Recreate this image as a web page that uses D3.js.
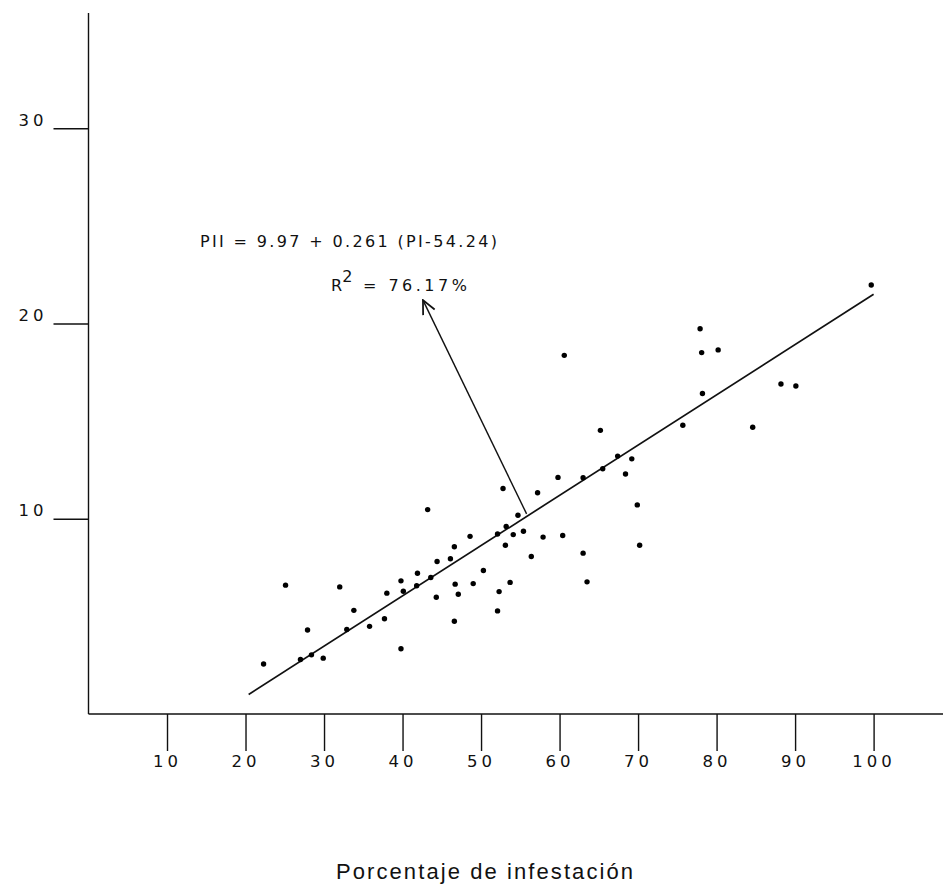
<!DOCTYPE html>
<html>
<head>
<meta charset="utf-8">
<script src="https://cdn.jsdelivr.net/npm/d3@7"></script>
<style>
  html, body { margin: 0; padding: 0; background: #fff; }
  svg { display: block; }
</style>
</head>
<body>
<svg id="chart" width="943" height="890"></svg>
<script>
// ---- Data ----
const xTicks = [10, 20, 30, 40, 50, 60, 70, 80, 90, 100];
const yTicks = [10, 20, 30];
const xTitle = "Porcentaje de infestación";
const equationText = "PII = 9.97 + 0.261 (PI-54.24)";
const r2Value = "= 76.17%";

// infestation percentage (PI)
const pi = [22.3, 25.1, 27.0, 27.9, 28.4, 29.9, 32.0, 33.8, 32.9, 35.8,
            37.7, 38.0, 39.8, 40.1, 39.8, 41.9, 41.8, 43.2, 43.6, 44.4,
            44.3, 46.1, 46.6, 46.7, 47.1, 46.6, 48.6, 49.0, 50.3, 52.1,
            52.3, 52.1, 52.8, 53.2, 53.1, 53.7, 54.1, 54.7, 55.4, 56.4,
            57.2, 57.9, 59.8, 60.4, 63.0, 63.0, 63.5, 65.2, 65.5, 67.4,
            68.4, 69.2, 69.9, 70.2, 75.7, 77.9, 78.1, 80.2, 78.2, 84.6,
            88.2, 90.1, 99.7, 60.6];
// infestation intensity (PII)
const pii = [2.56, 6.60, 2.79, 4.30, 3.03, 2.86, 6.51, 5.31, 4.33, 4.49,
             4.88, 6.19, 6.82, 6.29, 3.34, 7.21, 6.57, 10.47, 6.99, 7.81,
             5.98, 7.95, 8.57, 6.65, 6.13, 4.75, 9.10, 6.68, 7.35, 9.22,
             6.27, 5.28, 11.55, 9.61, 8.64, 6.74, 9.19, 10.18, 9.36, 8.07,
             11.33, 9.06, 12.12, 9.14, 12.10, 8.24, 6.77, 14.53, 12.56, 13.21,
             12.29, 13.07, 10.71, 8.64, 14.79, 19.73, 18.51, 18.65, 16.42, 14.69,
             16.90, 16.80, 21.97, 18.37];

// regression line end points (PI, PII) as drawn
const fitX = [20.4, 100];
const fitY = [1.0, 21.5];

// annotation arrow: from line (tail) to label (head)
const arrowX = [55.8, 42.6];
const arrowY = [10.25, 21.2];

// ---- Layout ----
const svg = d3.select("#chart");
const W = 943;

const x = d3.scaleLinear().domain([0, 100]).range([88.5, 873.6]);
const y = d3.scaleLinear().domain([0, 30]).range([714, 128.3]);

const tickFont = "'DejaVu Sans', sans-serif";

// X axis
const xAxis = svg.append("g")
  .attr("transform", `translate(0,${y(0)})`)
  .call(d3.axisBottom(x).tickValues(xTicks).tickSize(37).tickPadding(4).tickSizeOuter(0));
xAxis.select(".domain").attr("d", `M${x(0)},0H${W}`);
xAxis.selectAll("line, path").attr("stroke", "#111").attr("stroke-width", 1.4);
xAxis.selectAll("text")
  .attr("font-family", tickFont).attr("font-size", 16.5)
  .attr("letter-spacing", "4px")
  .attr("fill", "#111").attr("dx", "0px");

// Y axis
const yAxis = svg.append("g")
  .attr("transform", `translate(${x(0)},0)`)
  .call(d3.axisLeft(y).tickValues(yTicks).tickSize(35).tickPadding(6).tickSizeOuter(0));
yAxis.select(".domain").attr("d", `M0,${y(0)}V${y(35.9)}`);
yAxis.selectAll("line, path").attr("stroke", "#111").attr("stroke-width", 1.4);
yAxis.selectAll("text")
  .attr("font-family", tickFont).attr("font-size", 16.5)
  .attr("letter-spacing", "4px")
  .attr("dy", "-0.2em")
  .attr("fill", "#111");

// Regression line
const fitPts = fitX.map((d, i) => [d, fitY[i]]);
svg.append("path")
  .datum(fitPts)
  .attr("fill", "none")
  .attr("stroke", "#111")
  .attr("stroke-width", 1.7)
  .attr("d", d3.line().x(d => x(d[0])).y(d => y(d[1])));

// Points
const pts = pi.map((d, i) => ({ pi: d, pii: pii[i] }));
svg.append("g")
  .selectAll("circle")
  .data(pts)
  .join("circle")
  .attr("cx", d => x(d.pi))
  .attr("cy", d => y(d.pii))
  .attr("r", 2.7)
  .attr("fill", "#000");

// Arrow annotation
const defs = svg.append("defs");
defs.append("marker")
  .attr("id", "arrowhead")
  .attr("viewBox", "0 0 20 20")
  .attr("refX", 19).attr("refY", 10)
  .attr("markerWidth", 16).attr("markerHeight", 16)
  .attr("markerUnits", "userSpaceOnUse")
  .attr("orient", "auto")
  .append("path")
  .attr("d", "M2,2 L19,10 L2,18")
  .attr("fill", "none")
  .attr("stroke", "#111")
  .attr("stroke-width", 2.2);

const arrowPts = arrowX.map((d, i) => [d, arrowY[i]]);
svg.append("path")
  .datum(arrowPts)
  .attr("fill", "none")
  .attr("stroke", "#111")
  .attr("stroke-width", 1.4)
  .attr("marker-end", "url(#arrowhead)")
  .attr("d", d3.line().x(d => x(d[0])).y(d => y(d[1])));

// Equation text
const eqFont = "'DejaVu Sans', sans-serif";
svg.append("text")
  .attr("x", 200).attr("y", 247)
  .attr("font-family", eqFont).attr("font-size", 16)
  .attr("fill", "#111")
  .attr("textLength", 297).attr("lengthAdjust", "spacing")
  .text(equationText);

const r2 = svg.append("text")
  .attr("x", 331).attr("y", 291)
  .attr("font-family", eqFont).attr("font-size", 16)
  .attr("fill", "#111");
r2.append("tspan").text("R");
r2.append("tspan").attr("dy", -9).attr("font-size", 16).text("2");
r2.append("tspan").attr("dy", 9).attr("dx", 2).attr("letter-spacing", "3.5px").text(" " + r2Value);

// X axis title
svg.append("text")
  .attr("x", 336).attr("y", 879)
  .attr("font-family", "'Liberation Sans', Arial, sans-serif")
  .attr("font-size", 22)
  .attr("fill", "#111")
  .attr("textLength", 297).attr("lengthAdjust", "spacing")
  .text(xTitle);
</script>
</body>
</html>
